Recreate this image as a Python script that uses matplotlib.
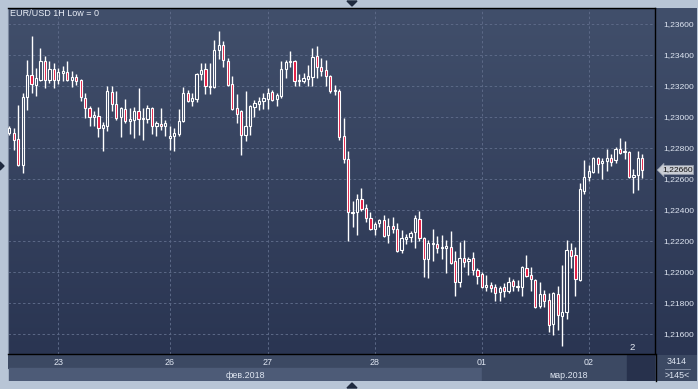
import matplotlib

matplotlib.use("Agg")

import matplotlib.pyplot as plt
import numpy as np
from matplotlib.patches import Polygon, Rectangle

W, H = 698, 389

# hourly EUR/USD candles
opens = [
    1.22897, 1.22897, 1.22858, 1.22691, 1.23129, 1.23271, 1.23207, 1.23239, 1.23361, 1.23239,
    1.23310, 1.23239, 1.23284, 1.23290, 1.23239, 1.23258, 1.23239, 1.23123, 1.23058, 1.23000,
    1.23007, 1.22929, 1.22942, 1.23161, 1.23084, 1.23000, 1.23052, 1.22974, 1.22981, 1.23039,
    1.22987, 1.22987, 1.23058, 1.22942, 1.22955, 1.22942, 1.22865, 1.22878, 1.22890, 1.22974,
    1.23155, 1.23103, 1.23116, 1.23277, 1.23310, 1.23194, 1.23194, 1.23432, 1.23465, 1.23361,
    1.23213, 1.23058, 1.23039, 1.22884, 1.22942, 1.23065, 1.23084, 1.23103, 1.23116, 1.23161,
    1.23116, 1.23136, 1.23310, 1.23355, 1.23361, 1.23232, 1.23232, 1.23245, 1.23258, 1.23394,
    1.23323, 1.23303, 1.23265, 1.23168, 1.23168, 1.22878, 1.22729, 1.22381, 1.22387, 1.22471,
    1.22413, 1.22349, 1.22278, 1.22316, 1.22336, 1.22239, 1.22297, 1.22278, 1.22142, 1.22213,
    1.22226, 1.22258, 1.22342, 1.22220, 1.22084, 1.22181, 1.22181, 1.22155, 1.22155, 1.22162,
    1.22071, 1.21936, 1.22091, 1.22071, 1.22091, 1.22013, 1.21987, 1.21904, 1.21917, 1.21904,
    1.21871, 1.21904, 1.21878, 1.21942, 1.21904, 1.21904, 1.22026, 1.21981, 1.21949, 1.21781,
    1.21858, 1.21820, 1.21665, 1.21858, 1.21717, 1.21742, 1.22142, 1.22110, 1.21949, 1.22523,
    1.22613, 1.22645, 1.22736, 1.22703, 1.22716, 1.22736, 1.22723, 1.22794, 1.22774, 1.22774,
    1.22613, 1.22626, 1.22736,
]
highs = [
    1.22942, 1.22929, 1.23078, 1.23155, 1.23368, 1.23523, 1.23316, 1.23445, 1.23394, 1.23361,
    1.23348, 1.23316, 1.23329, 1.23361, 1.23297, 1.23277, 1.23245, 1.23155, 1.23071, 1.23039,
    1.23065, 1.22968, 1.23200, 1.23200, 1.23168, 1.23065, 1.23116, 1.23058, 1.23065, 1.23187,
    1.23058, 1.23078, 1.23065, 1.22974, 1.23058, 1.22981, 1.22942, 1.22929, 1.23052, 1.23194,
    1.23174, 1.23155, 1.23284, 1.23348, 1.23348, 1.23348, 1.23497, 1.23555, 1.23490, 1.23381,
    1.23265, 1.23148, 1.23045, 1.23168, 1.23078, 1.23110, 1.23129, 1.23155, 1.23187, 1.23174,
    1.23155, 1.23361, 1.23368, 1.23426, 1.23368, 1.23277, 1.23284, 1.23336, 1.23445, 1.23458,
    1.23381, 1.23368, 1.23271, 1.23207, 1.23181, 1.22994, 1.22781, 1.22458, 1.22503, 1.22542,
    1.22439, 1.22387, 1.22323, 1.22342, 1.22368, 1.22349, 1.22355, 1.22316, 1.22271, 1.22245,
    1.22265, 1.22368, 1.22394, 1.22226, 1.22207, 1.22278, 1.22233, 1.22239, 1.22207, 1.22265,
    1.22136, 1.22194, 1.22207, 1.22097, 1.22129, 1.22026, 1.22000, 1.21981, 1.21936, 1.21923,
    1.21910, 1.21929, 1.21968, 1.21955, 1.21949, 1.22039, 1.22110, 1.22033, 1.21955, 1.21936,
    1.21884, 1.21865, 1.21871, 1.21910, 1.22046, 1.22207, 1.22187, 1.22162, 1.22574, 1.22723,
    1.22691, 1.22742, 1.22742, 1.22736, 1.22794, 1.22761, 1.22807, 1.22865, 1.22845, 1.22781,
    1.22665, 1.22781, 1.22761,
]
lows = [
    1.22884, 1.22787, 1.22684, 1.22639, 1.23045, 1.23155, 1.23136, 1.23232, 1.23187, 1.23219,
    1.23187, 1.23213, 1.23232, 1.23232, 1.23194, 1.23207, 1.23103, 1.22994, 1.22942, 1.22942,
    1.22871, 1.22781, 1.22910, 1.23039, 1.22981, 1.22871, 1.22961, 1.22890, 1.22865, 1.22884,
    1.22852, 1.22961, 1.22890, 1.22878, 1.22916, 1.22878, 1.22787, 1.22781, 1.22878, 1.22968,
    1.23097, 1.23071, 1.23097, 1.23239, 1.23148, 1.23148, 1.23187, 1.23374, 1.23323, 1.23200,
    1.23045, 1.22961, 1.22755, 1.22845, 1.22884, 1.23000, 1.23045, 1.23052, 1.23052, 1.23103,
    1.23071, 1.23123, 1.23252, 1.23323, 1.23200, 1.23200, 1.23219, 1.23200, 1.23200, 1.23252,
    1.23265, 1.23200, 1.23155, 1.23142, 1.22852, 1.22703, 1.22200, 1.22291, 1.22239, 1.22394,
    1.22323, 1.22271, 1.22239, 1.22291, 1.22226, 1.22187, 1.22252, 1.22129, 1.22123, 1.22181,
    1.22194, 1.22155, 1.22200, 1.21968, 1.21962, 1.22071, 1.22123, 1.22084, 1.21994, 1.22052,
    1.21846, 1.21904, 1.22033, 1.21981, 1.21981, 1.21923, 1.21897, 1.21878, 1.21871, 1.21813,
    1.21813, 1.21839, 1.21865, 1.21878, 1.21878, 1.21846, 1.21968, 1.21878, 1.21768, 1.21768,
    1.21775, 1.21613, 1.21594, 1.21626, 1.21523, 1.21697, 1.22026, 1.21846, 1.21942, 1.22503,
    1.22587, 1.22639, 1.22639, 1.22600, 1.22652, 1.22684, 1.22703, 1.22761, 1.22729, 1.22607,
    1.22510, 1.22529, 1.22607,
]
closes = [
    1.22929, 1.22852, 1.22691, 1.23129, 1.23271, 1.23213, 1.23252, 1.23361, 1.23239, 1.23310,
    1.23239, 1.23290, 1.23297, 1.23239, 1.23258, 1.23232, 1.23129, 1.23058, 1.23000, 1.23013,
    1.22929, 1.22949, 1.23168, 1.23084, 1.22994, 1.23058, 1.22974, 1.22987, 1.23039, 1.22987,
    1.22994, 1.23058, 1.22942, 1.22961, 1.22942, 1.22961, 1.22878, 1.22897, 1.22974, 1.23155,
    1.23103, 1.23123, 1.23277, 1.23303, 1.23200, 1.23200, 1.23432, 1.23465, 1.23368, 1.23207,
    1.23052, 1.23019, 1.22884, 1.22942, 1.23071, 1.23090, 1.23103, 1.23123, 1.23155, 1.23110,
    1.23142, 1.23310, 1.23355, 1.23361, 1.23232, 1.23239, 1.23252, 1.23265, 1.23387, 1.23323,
    1.23297, 1.23265, 1.23168, 1.23174, 1.22871, 1.22729, 1.22387, 1.22387, 1.22471, 1.22407,
    1.22349, 1.22278, 1.22310, 1.22336, 1.22233, 1.22297, 1.22278, 1.22136, 1.22220, 1.22226,
    1.22252, 1.22349, 1.22220, 1.22084, 1.22187, 1.22187, 1.22155, 1.22162, 1.22168, 1.22058,
    1.21936, 1.22091, 1.22065, 1.22084, 1.22013, 1.21975, 1.21904, 1.21917, 1.21897, 1.21865,
    1.21897, 1.21878, 1.21936, 1.21910, 1.21910, 1.22033, 1.21975, 1.21955, 1.21775, 1.21858,
    1.21813, 1.21659, 1.21865, 1.21723, 1.21742, 1.22142, 1.22104, 1.21955, 1.22536, 1.22613,
    1.22652, 1.22736, 1.22697, 1.22716, 1.22736, 1.22710, 1.22794, 1.22768, 1.22781, 1.22613,
    1.22626, 1.22736, 1.22660,
]

price_ticks = [1.216, 1.218, 1.220, 1.222, 1.224, 1.226, 1.228, 1.230, 1.232, 1.234, 1.236]
day_labels = ["23", "26", "27", "28", "01", "02"]
day_start = [11, 36, 58, 82, 106, 130]  # candle index where each day begins
month_labels = ["фев.2018", "мар.2018"]
month_start = [0, 106]
last_price = 1.22660
bars_count = "3414"
bars_shown = ">145<"

FONT = "Liberation Sans"
TXT = "#dfe6f2"
RED = "#e3173e"
FRAME = "#b8c5d6"


def fx(px):
    return px / W


def fy(py):
    return 1 - py / H


def rect(x0, y0, x1, y1):
    return [fx(x0), fy(y1), fx(x1) - fx(x0), fy(y0) - fy(y1)]


fig = plt.figure(figsize=(W / 100, H / 100), dpi=100, facecolor=FRAME)

# gradient backdrop for the plot and the price scale
bg = fig.add_axes(rect(8, 8, 697, 355), zorder=0)
top = np.array([0x41, 0x4f, 0x6b]) / 255
bottom = np.array([0x2a, 0x35, 0x52]) / 255
t = np.linspace(0, 1, 256)[:, None]
grad = (top * (1 - t) + bottom * t)[:, None, :]
bg.imshow(grad, aspect="auto", extent=[0, 1, 0, 1])
bg.set_axis_off()

ax = fig.add_axes(rect(8, 8, 655, 354), zorder=2)
ax.patch.set_alpha(0)
n = len(opens)
x = np.arange(n)
xlim = (-0.29, 144.84)
ax.set_xlim(*xlim)
ax.set_ylim(1.21471, 1.23703)

for p in price_ticks:
    ax.axhline(p, color="#5c6987", lw=0.7, ls=(0, (2.5, 2.5)), zorder=1)
for d in day_start:
    ax.axvline(d, color="#5c6987", lw=0.7, ls=(0, (2.5, 2.5)), zorder=1)

o = np.array(opens)
c = np.array(closes)
hi = np.array(highs)
lo = np.array(lows)
body_top = np.maximum(o, c)
body_bot = np.minimum(o, c)
ax.vlines(x, body_top, hi, color="white", lw=1.0, zorder=3)
ax.vlines(x, lo, body_bot, color="white", lw=1.0, zorder=3)
down = c < o
faces = [RED if d else "none" for d in down]
ax.bar(x, np.maximum(body_top - body_bot, 0.00002), bottom=body_bot, width=0.5,
       color=faces, edgecolor="white", linewidth=0.8, zorder=4)

ax.yaxis.tick_right()
ax.set_yticks(price_ticks)
ax.set_yticklabels([f"{p:.5f}".replace(".", ",") for p in price_ticks],
                   fontsize=6.1, color=TXT, family=FONT)
ax.tick_params(axis="y", length=0, pad=6)
ax.set_xticks([])
for side in ["top", "right", "bottom"]:
    ax.spines[side].set_color("black")
    ax.spines[side].set_linewidth(1.0)
ax.spines["left"].set_color("#7d8aa0")

fig.text(fx(10), fy(14), "EUR/USD 1H Low = 0", fontsize=6.5, color="#e8edf6",
         family=FONT, va="center", ha="left")
fig.text(fx(632), fy(348), "2", fontsize=6.8, color="#e8edf6", family=FONT,
         va="center", ha="center", zorder=5)

# last price tag
fig.text(fx(662), fy(170), f"{last_price:.5f}".replace(".", ","), fontsize=6.1,
         color="#111111", family=FONT, va="center", ha="left", zorder=10,
         bbox=dict(boxstyle="larrow,pad=0.12", fc="#c9cdd4", ec="#8e97a7", lw=0.5))

# date / month bar
bar = fig.add_axes(rect(8, 355, 655, 381), zorder=1)
bar.set_xlim(*xlim)
bar.set_ylim(0, 2)
bar.set_axis_off()
bar.add_patch(Rectangle((xlim[0], 1), xlim[1] - xlim[0], 1, color="#3c4963"))
month_end = month_start[1:] + [xlim[1]]
month_colors = ["#4d5b77", "#3c4963"]
for lab, s, e, col in zip(month_labels, month_start, month_end, month_colors):
    s = max(s, xlim[0])
    bar.add_patch(Rectangle((s, 0), e - s, 1, color=col))
    bar.text((s + e) / 2, 0.45, lab, fontsize=6.4, color=TXT, family=FONT,
             ha="center", va="center")
for lab, d in zip(day_labels, day_start):
    bar.text(d, 1.42, lab, fontsize=6.4, color=TXT, family=FONT, ha="center", va="center")
bar.add_patch(Rectangle((138.6, 0), xlim[1] - 138.6, 2, color="#27314c"))

# counter box at bottom right
fig.patches.append(Rectangle((fx(655), fy(381)), fx(697) - fx(655), fy(355) - fy(381),
                             transform=fig.transFigure, fc="#3c4963", ec="none"))
fig.add_artist(plt.Line2D([fx(655.5), fx(655.5)], [fy(354), fy(381)], color="black", lw=1.0))
fig.text(fx(677), fy(362), bars_count, fontsize=6.4, color=TXT, family=FONT,
         ha="center", va="center")
fig.add_artist(plt.Line2D([fx(665), fx(690)], [fy(369), fy(369)], color="#8a95aa", lw=0.6))
fig.text(fx(677), fy(375), bars_shown, fontsize=6.4, color=TXT, family=FONT,
         ha="center", va="center")

# frame arrows
mark = "#1f2a3f"
fig.patches.append(Polygon([(fx(347), fy(1)), (fx(357), fy(1)), (fx(352), fy(6))],
                           closed=True, transform=fig.transFigure, color=mark))
fig.patches.append(Polygon([(fx(347), fy(388)), (fx(357), fy(388)), (fx(352), fy(383))],
                           closed=True, transform=fig.transFigure, color=mark))
fig.patches.append(Polygon([(fx(0), fy(162)), (fx(0), fy(170)), (fx(4), fy(166))],
                           closed=True, transform=fig.transFigure, color=mark))

fig.savefig("out.png", dpi=100, facecolor=FRAME)
plt.close(fig)
